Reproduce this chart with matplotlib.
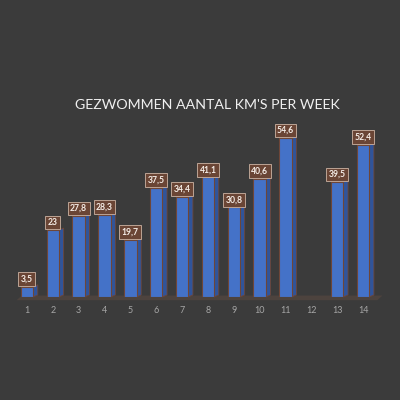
import matplotlib
matplotlib.use("Agg")
import matplotlib.pyplot as plt
from matplotlib.patches import Polygon

weeks = [1, 2, 3, 4, 5, 6, 7, 8, 9, 10, 11, 12, 13, 14]
km = [3.5, 23, 27.8, 28.3, 19.7, 37.5, 34.4, 41.1, 30.8, 40.6, 54.6, None, 39.5, 52.4]
week_labels = [str(w) for w in weeks]
title = "GEZWOMMEN AANTAL KM'S PER WEEK"

bg = "#3b3b3b"
front = "#4472c8"
side = "#30549a"
glow = "#6e4638"

fig = plt.figure(figsize=(4, 4), dpi=100, facecolor=bg)
ax = fig.add_axes([0.035, 0.2575, 0.905, 0.4365], facecolor=bg)
ax.set_xlim(0.5, 14.5)
ax.set_ylim(0, 60)

bw = 0.48
dx = 0.18
dy = 0.7

# floor band under the bars
floor = Polygon([(0.6, -1.1), (14.55, -1.1), (14.75, 0.5), (0.8, 0.5)],
                closed=True, facecolor="#4d433e", edgecolor="none",
                clip_on=False, zorder=1)
ax.add_patch(floor)

for w, v in zip(weeks, km):
    if v is None:
        continue
    x1 = w + bw / 2
    # side face
    ax.add_patch(Polygon([(x1, 0), (x1 + dx, dy), (x1 + dx, v + dy), (x1, v)],
                         closed=True, facecolor=side, edgecolor=glow,
                         linewidth=0.6, zorder=2, clip_on=False))
    # front face
    ax.bar(w, v, width=bw, color=front, edgecolor=glow, linewidth=0.8,
           zorder=3)
    txt = f"{v:g}".replace(".", ",")
    ax.annotate(txt, (w, v), xytext=(0, 5.5), textcoords="offset points",
                ha="center", va="center", fontsize=6.2, fontweight="bold",
                color="#f4ece6", family="Lato", zorder=5,
                annotation_clip=False,
                bbox=dict(boxstyle="square,pad=0.28", facecolor="#6a4535",
                          edgecolor="#cdb3a3", linewidth=0.6))

ax.set_xticks(weeks)
ax.set_xticklabels(week_labels, fontsize=6.5, color="#a6a6a6", family="Lato")
ax.tick_params(axis="x", length=0, pad=6.5)
ax.set_yticks([])
for s in ax.spines.values():
    s.set_visible(False)

fig.text(0.518, 0.738, title, ha="center", va="center", fontsize=10.2,
         color="#f0f0f0", family="Lato")

fig.savefig("out.png", dpi=100, facecolor=bg)
